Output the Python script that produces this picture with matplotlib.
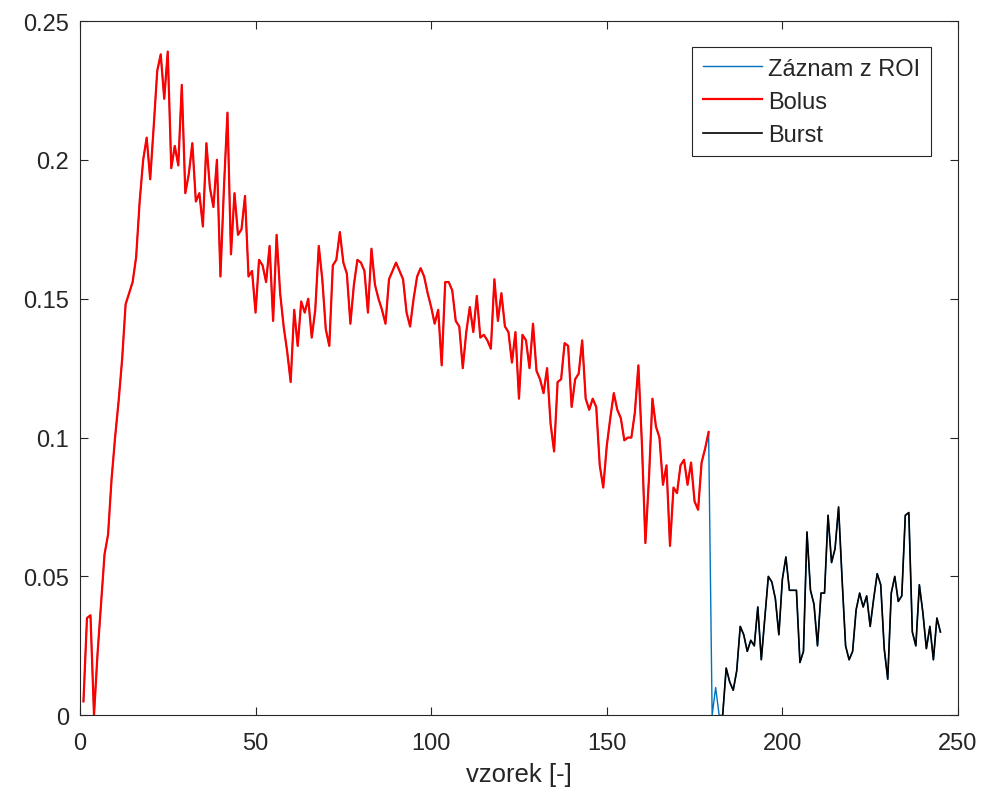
import numpy as np
import matplotlib
matplotlib.use('Agg')
import matplotlib.pyplot as plt

plt.rcParams['font.family'] = ['Liberation Sans', 'DejaVu Sans']

# samples 1..245, full ROI record
zaznam_roi = [
    0.005, 0.035, 0.036, 0.0, 0.022, 0.04, 0.058, 0.065, 0.085, 0.1,
    0.113, 0.128, 0.148, 0.152, 0.156, 0.165, 0.185, 0.2, 0.208, 0.193,
    0.212, 0.232, 0.238, 0.222, 0.239, 0.197, 0.205, 0.198, 0.227, 0.188,
    0.195, 0.206, 0.185, 0.188, 0.176, 0.206, 0.19, 0.183, 0.2, 0.158,
    0.19, 0.217, 0.166, 0.188, 0.173, 0.175, 0.187, 0.158, 0.16, 0.145,
    0.164, 0.162, 0.156, 0.169, 0.142, 0.173, 0.152, 0.14, 0.131, 0.12,
    0.146, 0.133, 0.149, 0.145, 0.15, 0.136, 0.146, 0.169, 0.157, 0.139,
    0.133, 0.162, 0.164, 0.174, 0.163, 0.159, 0.141, 0.155, 0.164, 0.163,
    0.16, 0.145, 0.168, 0.155, 0.15, 0.146, 0.141, 0.157, 0.16, 0.163,
    0.16, 0.157, 0.145, 0.14, 0.15, 0.158, 0.161, 0.158, 0.152, 0.147,
    0.141, 0.146, 0.126, 0.156, 0.156, 0.153, 0.142, 0.14, 0.125, 0.138,
    0.147, 0.138, 0.151, 0.136, 0.137, 0.135, 0.132, 0.157, 0.142, 0.152,
    0.14, 0.138, 0.127, 0.138, 0.114, 0.137, 0.135, 0.125, 0.141, 0.124,
    0.121, 0.116, 0.125, 0.105, 0.095, 0.12, 0.121, 0.134, 0.133, 0.111,
    0.121, 0.123, 0.135, 0.114, 0.11, 0.114, 0.111, 0.09, 0.082, 0.097,
    0.107, 0.116, 0.11, 0.107, 0.099, 0.1, 0.1, 0.109, 0.126, 0.098,
    0.062, 0.085, 0.114, 0.104, 0.1, 0.083, 0.09, 0.061, 0.082, 0.08,
    0.09, 0.092, 0.083, 0.091, 0.077, 0.074, 0.091, 0.096, 0.102, 0.0,
    0.01, 0.0, 0.0, 0.017, 0.012, 0.009, 0.016, 0.032, 0.029, 0.023,
    0.027, 0.025, 0.039, 0.02, 0.035, 0.05, 0.048, 0.042, 0.029, 0.049,
    0.057, 0.045, 0.045, 0.045, 0.019, 0.023, 0.066, 0.045, 0.04, 0.025,
    0.044, 0.044, 0.072, 0.055, 0.06, 0.075, 0.049, 0.025, 0.02, 0.023,
    0.038, 0.044, 0.039, 0.043, 0.032, 0.042, 0.051, 0.047, 0.024, 0.013,
    0.044, 0.05, 0.041, 0.043, 0.072, 0.073, 0.03, 0.025, 0.047, 0.037,
    0.024, 0.032, 0.02, 0.035, 0.03,
]
vzorek = np.arange(1, len(zaznam_roi) + 1)

bolus_end = 179     # last sample of bolus part
burst_start = 183   # first sample of burst part

roi = np.array(zaznam_roi)
bolus_x = vzorek[:bolus_end]
bolus_y = roi[:bolus_end]
burst_x = vzorek[burst_start - 1:]
burst_y = roi[burst_start - 1:]

fig = plt.figure(figsize=(9.87, 8.03), dpi=100)
ax = fig.add_axes([0.081, 0.108, 0.8896, 0.8646])

ax.plot(vzorek, roi, color='#0072BD', lw=1.0, label='Záznam z ROI')
ax.plot(bolus_x, bolus_y, color='red', lw=1.6, label='Bolus')
ax.plot(burst_x, burst_y, color='black', lw=1.2, label='Burst')

ax.set_xlim(0, 250)
ax.set_ylim(0, 0.25)
ax.set_xticks([0, 50, 100, 150, 200, 250])
ax.set_yticks([0, 0.05, 0.1, 0.15, 0.2, 0.25])
ax.set_yticklabels(['0', '0.05', '0.1', '0.15', '0.2', '0.25'])
ax.set_xlabel('vzorek [-]', fontsize=18.5, color='#262626', labelpad=6)

ax.tick_params(direction='in', top=True, right=True, length=6, width=0.8,
               labelsize=17, colors='#262626', pad=8)
ax.tick_params(axis='x', pad=12)
for s in ax.spines.values():
    s.set_color('#262626')
    s.set_linewidth(0.8)

leg = ax.legend(loc='upper right', bbox_to_anchor=(0.969, 0.9625), fontsize=17,
                fancybox=False, framealpha=1, edgecolor='#262626',
                handlelength=2.5, handletextpad=0.25, labelspacing=0.47,
                borderpad=0.45, borderaxespad=0)
leg.get_frame().set_linewidth(0.8)
for t in leg.get_texts():
    t.set_color('#262626')

fig.savefig('out.png', dpi=100)
